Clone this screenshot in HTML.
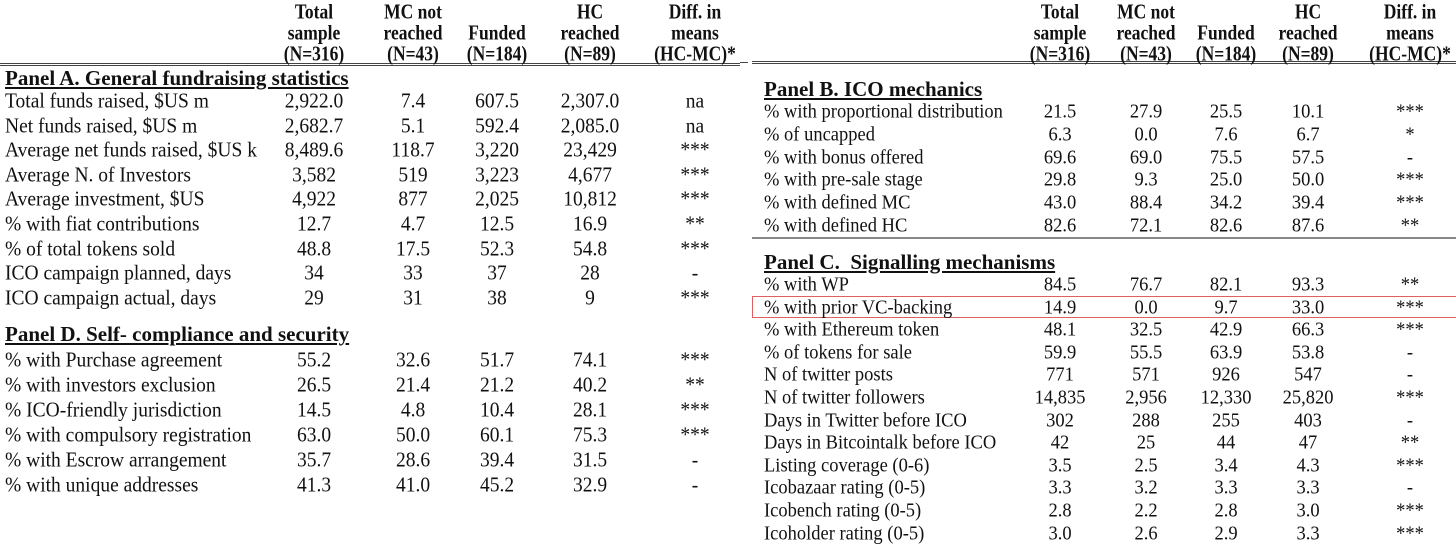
<!DOCTYPE html><html><head><style>
body{margin:0;width:1456px;height:543px;background:#fff;position:relative;overflow:hidden;font-family:"Liberation Serif",serif;font-size:19.5px;color:#111}
.r{position:absolute;left:0;width:1456px;height:20px}
.r span{position:absolute;white-space:nowrap;transform:translateX(-50%) scaleY(1.08);line-height:20px}
.r span.l{transform:scaleY(1.08);transform-origin:0 50%}
.r.rt span{font-size:18.5px}
.h span{font-weight:bold;font-size:17.5px;transform:translateX(-50%) scaleY(1.22)}
.p{position:absolute;font-weight:bold;text-decoration:underline;white-space:nowrap;line-height:20px;font-size:21px}
.line{position:absolute;height:3px;border-top:1px solid #444;border-bottom:1px solid #444;box-sizing:border-box}
</style></head><body>
<div class="line" style="left:0;top:63px;width:740px"></div>
<div class="line" style="left:740px;top:62px;width:8px;height:1px;border-bottom:none"></div>
<div class="line" style="left:752px;top:61px;width:704px"></div>
<div class="line" style="left:752px;top:237px;width:704px;height:2px;border-bottom:none;border-top:2px solid #888"></div>
<div style="position:absolute;left:752px;top:296px;width:710px;height:20px;border:1px solid #e06060"></div>
<div id="c"></div>
<script>
var L=[314,413,497,590,695],R=[1060,1146,1226,1308,1410];
var out='';
function row(y,lx,label,vals,xs,cls){out+='<div class="r '+(cls||'')+'" style="top:'+(y-10)+'px"><span class="l" style="left:'+lx+'px">'+label+'</span>';vals.forEach(function(v,i){out+='<span style="left:'+xs[i]+'px">'+v+'</span>'});out+='</div>';}
function hdr(xs){row(11,0,'',['Total','MC not','','HC','Diff. in'],xs,'h');row(32,0,'',['sample','reached','Funded','reached','means'],xs,'h');row(53,0,'',['(N=316)','(N=43)','(N=184)','(N=89)','(HC-MC)*'],xs,'h');}
hdr(L);hdr(R);
function p(x,y,t){out+='<div class="p" style="left:'+x+'px;top:'+(y-10)+'px">'+t+'</div>';}
p(5,78,'Panel A. General fundraising statistics');
var A=[['Total funds raised, $US m','2,922.0','7.4','607.5','2,307.0','na'],['Net funds raised, $US m','2,682.7','5.1','592.4','2,085.0','na'],['Average net funds raised, $US k','8,489.6','118.7','3,220','23,429','***'],['Average N. of Investors','3,582','519','3,223','4,677','***'],['Average investment, $US','4,922','877','2,025','10,812','***'],['% with fiat contributions','12.7','4.7','12.5','16.9','**'],['% of total tokens sold','48.8','17.5','52.3','54.8','***'],['ICO campaign planned, days','34','33','37','28','-'],['ICO campaign actual, days','29','31','38','9','***']];
A.forEach(function(a,i){row(102+i*24.6,5,a[0],a.slice(1),L)});
p(5,334,'Panel D. Self- compliance and security');
var D=[['% with Purchase agreement','55.2','32.6','51.7','74.1','***'],['% with investors exclusion','26.5','21.4','21.2','40.2','**'],['% ICO-friendly jurisdiction','14.5','4.8','10.4','28.1','***'],['% with compulsory registration','63.0','50.0','60.1','75.3','***'],['% with Escrow arrangement','35.7','28.6','39.4','31.5','-'],['% with unique addresses','41.3','41.0','45.2','32.9','-']];
D.forEach(function(a,i){row(361+i*24.9,5,a[0],a.slice(1),L)});
p(764,89,'Panel B. ICO mechanics');
var B=[['% with proportional distribution','21.5','27.9','25.5','10.1','***'],['% of uncapped','6.3','0.0','7.6','6.7','*'],['% with bonus offered','69.6','69.0','75.5','57.5','-'],['% with pre-sale stage','29.8','9.3','25.0','50.0','***'],['% with defined MC','43.0','88.4','34.2','39.4','***'],['% with defined HC','82.6','72.1','82.6','87.6','**']];
B.forEach(function(a,i){row(112+i*22.8,764,a[0],a.slice(1),R,'rt')});
p(764,262,'Panel C.&nbsp; Signalling mechanisms');
var C=[['% with WP','84.5','76.7','82.1','93.3','**'],['% with prior VC-backing','14.9','0.0','9.7','33.0','***'],['% with Ethereum token','48.1','32.5','42.9','66.3','***'],['% of tokens for sale','59.9','55.5','63.9','53.8','-'],['N of twitter posts','771','571','926','547','-'],['N of twitter followers','14,835','2,956','12,330','25,820','***'],['Days in Twitter before ICO','302','288','255','403','-'],['Days in Bitcointalk before ICO','42','25','44','47','**'],['Listing coverage (0-6)','3.5','2.5','3.4','4.3','***'],['Icobazaar rating (0-5)','3.3','3.2','3.3','3.3','-'],['Icobench rating (0-5)','2.8','2.2','2.8','3.0','***'],['Icoholder rating (0-5)','3.0','2.6','2.9','3.3','***']];
C.forEach(function(a,i){row(285+i*22.6,764,a[0],a.slice(1),R,'rt')});
document.getElementById('c').innerHTML=out;
</script>
</body></html>
